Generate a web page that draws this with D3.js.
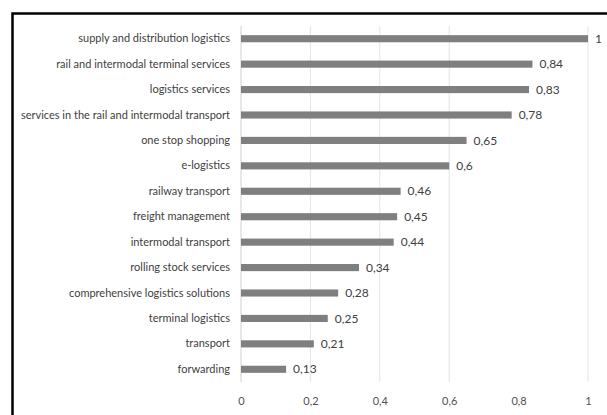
<!DOCTYPE html>
<html>
<head>
<meta charset="utf-8">
<script src="https://cdn.jsdelivr.net/npm/d3@7"></script>
<style>
  body { margin: 0; background: #fff; }
  text { font-family: Lato, "DejaVu Sans Condensed", sans-serif; fill: #404040; }
</style>
</head>
<body>
<div id="chart"></div>
<script>
const categories = [
    "supply and distribution logistics",
    "rail and intermodal terminal services",
    "logistics services",
    "services in the rail and intermodal transport",
    "one stop shopping",
    "e-logistics",
    "railway transport",
    "freight management",
    "intermodal transport",
    "rolling stock services",
    "comprehensive logistics solutions",
    "terminal logistics",
    "transport",
    "forwarding"
];
const values = [1, 0.84, 0.83, 0.78, 0.65, 0.6, 0.46, 0.45, 0.44, 0.34, 0.28, 0.25, 0.21, 0.13];
const ticks = [0, 0.2, 0.4, 0.6, 0.8, 1];

const W = 607, H = 415;
const svg = d3.select("#chart").append("svg")
    .attr("width", W)
    .attr("height", H);

// Rahmen
svg.append("rect")
    .attr("x", 12.5)
    .attr("y", 13.5)
    .attr("width", W)
    .attr("height", H)
    .attr("fill", "none")
    .attr("stroke", "#000")
    .attr("stroke-width", 2.5);

const xScale = d3.scaleLinear().domain([0, 1]).range([241, 588]);
const yScale = d3.scaleBand().domain(categories).range([26, 382]).paddingInner(0.72).paddingOuter(0.36);

const fmt = v => String(v).replace(".", ",");

// Gitterlinien
svg.selectAll("line.grid")
    .data(ticks.filter(t => t !== 0.8))
    .enter()
    .append("line")
    .attr("class", "grid")
    .attr("x1", d => xScale(d))
    .attr("x2", d => xScale(d))
    .attr("y1", 26)
    .attr("y2", 382)
    .attr("stroke", d => d === 0 ? "#d0d0d0" : "#e3e3e3")
    .attr("stroke-width", 1);

const xAxis = svg.append("g")
    .attr("transform", "translate(0,382)")
    .call(d3.axisBottom(xScale).tickValues(ticks).tickFormat(fmt).tickSize(0).tickPadding(15));
xAxis.select(".domain").remove();
xAxis.selectAll("text").style("font-size", "11px").style("fill", "#505050");

const yAxis = svg.append("g")
    .attr("transform", "translate(241,0)")
    .call(d3.axisLeft(yScale).tickSize(0).tickPadding(11));
yAxis.select(".domain").remove();
yAxis.selectAll("text").style("font-size", "11px").style("fill", "#404040");

svg.selectAll("rect.bar")
    .data(values)
    .enter()
    .append("rect")
    .attr("class", "bar")
    .attr("x", xScale(0))
    .attr("y", (d, i) => yScale(categories[i]))
    .attr("width", d => xScale(d) - xScale(0))
    .attr("height", yScale.bandwidth())
    .attr("fill", "#7f7f7f");

svg.selectAll("text.val")
    .data(values)
    .enter()
    .append("text")
    .attr("class", "val")
    .attr("x", d => xScale(d) + 7)
    .attr("y", (d, i) => yScale(categories[i]) + yScale.bandwidth() / 2)
    .attr("dy", "0.35em")
    .style("font-size", "12px")
    .text(fmt);
</script>
</body>
</html>
